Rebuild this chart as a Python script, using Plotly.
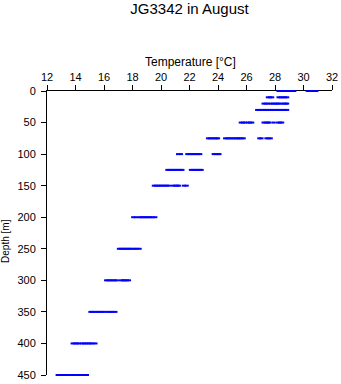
import plotly.graph_objects as go

depths = [0, 10, 20, 30, 50, 75, 100, 125, 150, 200, 250, 300, 350, 400, 450]
temps = {
    0: [28.25, 28.4, 28.55, 28.7, 28.85, 29.05, 29.2, 29.35, 30.3, 30.45, 30.65, 30.8, 30.9],
    10: [27.5, 27.65, 27.8, 28.25, 28.4, 28.55, 28.7, 28.85],
    20: [27.2, 27.35, 27.5, 27.7, 27.85, 28.0, 28.15, 28.25, 28.45, 28.6, 28.75, 28.85],
    30: [26.75, 26.9, 27.05, 27.2, 27.3, 27.45, 27.6, 27.75, 27.9, 28.1, 28.25, 28.4, 28.55, 28.7, 28.85],
    50: [25.6, 25.75, 25.9, 26.1, 26.25, 26.4, 27.2, 27.35, 27.5, 27.6, 27.9, 28.2, 28.35, 28.5],
    75: [23.3, 23.45, 23.6, 23.75, 23.9, 24.0, 24.5, 24.65, 24.8, 24.95, 25.1, 25.25, 25.4, 25.5,
         25.65, 25.8, 26.9, 27.05, 27.4, 27.55, 27.7],
    100: [21.2, 21.4, 21.85, 22.0, 22.15, 22.3, 22.45, 22.6, 22.75, 23.7, 23.85, 24.0, 24.1],
    125: [20.45, 20.6, 20.75, 20.9, 21.05, 21.2, 21.35, 21.5, 22.1, 22.25, 22.4, 22.55, 22.7, 22.85],
    150: [19.5, 19.65, 19.8, 19.95, 20.1, 20.25, 20.4, 20.55, 20.85, 21.0, 21.15, 21.25, 21.6, 21.8],
    200: [18.05, 18.25, 18.5, 18.65, 18.8, 18.95, 19.1, 19.25, 19.4, 19.6],
    250: [17.05, 17.2, 17.35, 17.5, 17.65, 17.8, 17.95, 18.15, 18.3, 18.5],
    300: [16.15, 16.3, 16.45, 16.6, 16.75, 16.9, 17.2, 17.35, 17.45, 17.6, 17.75],
    350: [15.05, 15.2, 15.35, 15.55, 15.7, 15.85, 16.05, 16.25, 16.45, 16.6, 16.8],
    400: [13.8, 13.95, 14.1, 14.25, 14.45, 14.6, 14.75, 14.9, 15.05, 15.2, 15.4],
    450: [12.75, 12.9, 13.05, 13.15, 13.3, 13.45, 13.6, 13.85, 13.95, 14.2, 14.3, 14.55, 14.8],
}
x_ticks = [12, 14, 16, 18, 20, 22, 24, 26, 28, 30, 32]
y_ticks = [0, 50, 100, 150, 200, 250, 300, 350, 400, 450]

xs, ys = [], []
for d in depths:
    for t in temps[d]:
        xs.append(t)
        ys.append(d)

FONT = "Liberation Sans, Arial, sans-serif"

fig = go.Figure()
fig.add_trace(go.Scatter(
    x=xs, y=ys, mode="markers", cliponaxis=False,
    marker=dict(symbol="line-ew", size=3, color="#0000ff",
                line=dict(color="#0000ff", width=2)),
    showlegend=False,
))

fig.update_layout(
    template="none",
    width=341, height=384,
    margin=dict(l=47, r=9, t=91, b=9, autoexpand=False),
    paper_bgcolor="white", plot_bgcolor="white",
    font=dict(family=FONT, size=11, color="black"),
    title=dict(text="JG3342 in August", xref="paper", x=0.5, xanchor="center",
               yref="container", y=0.99, yanchor="top",
               font=dict(family=FONT, size=15, color="black")),
    xaxis=dict(side="top", range=[12, 32], tickvals=x_ticks, ticks="outside",
               ticklen=5, tickcolor="black", tickwidth=1, showline=True, linecolor="black",
               linewidth=1, showgrid=False, zeroline=False, layer="below traces",
               automargin=False, tickfont=dict(size=11)),
    yaxis=dict(range=[450, 0], tickvals=y_ticks, ticks="outside", ticklen=5,
               tickcolor="black", tickwidth=1, showline=True, linecolor="black", linewidth=1,
               showgrid=False, zeroline=False, layer="below traces", automargin=False,
               tickfont=dict(size=11), ticklabelstandoff=3),
    annotations=[
        dict(text="Temperature [°C]", xref="paper", yref="paper", x=0.505, y=1.102,
             xanchor="center", yanchor="middle", showarrow=False,
             font=dict(family=FONT, size=12, color="black")),
        dict(text="Depth [m]", xref="paper", yref="paper", x=-0.144, y=0.472,
             xanchor="center", yanchor="middle", textangle=-90, showarrow=False,
             font=dict(family=FONT, size=10, color="black")),
    ],
)

fig.write_html("out.html")
